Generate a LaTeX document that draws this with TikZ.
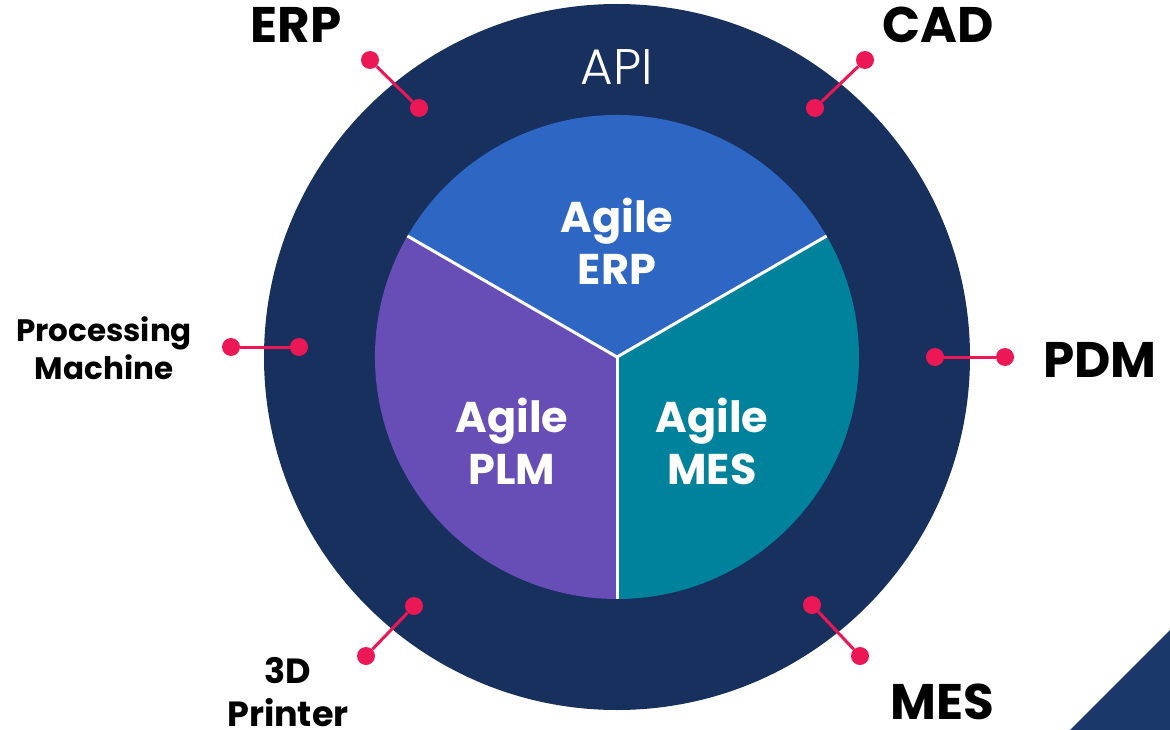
\documentclass[tikz,border=0pt]{standalone}
\usepackage{fontspec}
\setmainfont{Poppins}
\newfontfamily\apifont{Poppins Light}
\definecolor{ringnavy}{HTML}{17305E}
\definecolor{cornernavy}{HTML}{1B386B}
\definecolor{pinkred}{HTML}{EC1856}
\definecolor{erpblue}{HTML}{2E66C4}
\definecolor{plmpurple}{HTML}{674EB6}
\definecolor{mesteal}{HTML}{00829C}
\begin{document}
\begin{tikzpicture}[
    x=1pt,y=-1pt,
    dot/.style={circle,fill=pinkred,inner sep=0pt,minimum size=18pt},
    link/.style={draw=pinkred,line width=3pt},
    tool/.style={font=\bfseries\fontsize{50}{52}\selectfont,text=black},
    smalltool/.style 2 args={font=\bfseries\fontsize{#1}{#2}\selectfont,text=black,align=center},
    module/.style={font=\bfseries\fontsize{43}{52}\selectfont,text=white,align=center}
  ]
  \useasboundingbox (0,0) rectangle (1170,730);

  % ring and corner
  \coordinate (hub) at (617,357);
  \fill[cornernavy] (1070,730) -- (1170,630) -- (1170,730) -- cycle;
  \fill[ringnavy] (hub) circle[radius=353pt];

  % three modules
  \fill[erpblue] (hub) -- +(30:242pt) arc[start angle=30,end angle=150,radius=242pt] -- cycle;
  \fill[plmpurple] (hub) -- +(150:242pt) arc[start angle=150,end angle=270,radius=242pt] -- cycle;
  \fill[mesteal] (hub) -- +(270:242pt) arc[start angle=270,end angle=390,radius=242pt] -- cycle;
  \foreach \a in {30,150,270}
    \draw[white,line width=3pt] (hub) -- +(\a:242pt);

  \node[module] (agileerp) at (617,241) {Agile\\ERP};
  \node[module] (agileplm) at (512,441) {Agile\\PLM};
  \node[module] (agilemes) at (712,441) {Agile\\MES};
  \node[text=white,font=\apifont\fontsize{50}{52}\selectfont] (api) at (617,67) {API};

  % connectors
  \node[dot] (erpin) at (419,108) {};
  \node[dot] (erpout) at (370,60) {};
  \node[dot] (cadin) at (815,108) {};
  \node[dot] (cadout) at (865,60) {};
  \node[dot] (pdmin) at (935,357) {};
  \node[dot] (pdmout) at (1005,357) {};
  \node[dot] (mesin) at (812,605) {};
  \node[dot] (mesout) at (860,656) {};
  \node[dot] (printin) at (414,606) {};
  \node[dot] (printout) at (366,656) {};
  \node[dot] (machin) at (299,347) {};
  \node[dot] (machout) at (231,347) {};
  \foreach \p in {erp,cad,pdm,mes,print,mach}
    \draw[link] (\p in) -- (\p out);

  % outside systems
  \node[tool] (erp) at (296,25) {ERP};
  \node[tool] (cad) at (938,25) {CAD};
  \node[tool] (pdm) at (1100,360) {PDM};
  \node[tool] (mes) at (942,702) {MES};
  \node[smalltool={35}{43}] (printer) at (288,692) {3D\\Printer};
  \node[smalltool={31}{38}] (machine) at (104,348) {Processing\\Machine};
\end{tikzpicture}
\end{document}
